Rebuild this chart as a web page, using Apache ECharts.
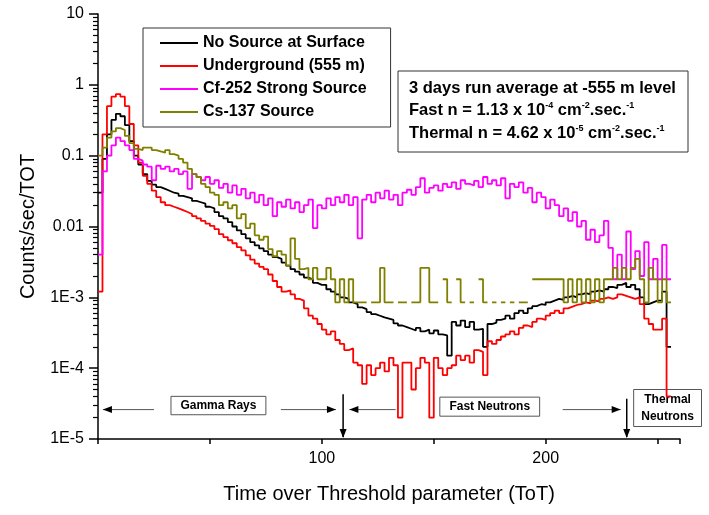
<!DOCTYPE html>
<html>
<head>
<meta charset="utf-8">
<script src="https://cdn.jsdelivr.net/npm/echarts@6/dist/echarts.min.js"></script>
<style>
  html, body { margin: 0; padding: 0; background: #fff; }
  #main { width: 709px; height: 515px; }
</style>
</head>
<body>
<div id="main"></div>
<script>
// ToT histogram, bins of width 2 starting at 0
var binStart = 0, binWidth = 2;
var seriesNames = ['No Source at Surface', 'Underground (555 m)', 'Cf-252 Strong Source', 'Cs-137 Source'];
var seriesColors = ['#000000', '#ff0000', '#ff00ff', '#808000'];

var noSource = [
  0.03, 0.09, 0.2, 0.32, 0.39, 0.36, 0.27, 0.16, 0.1, 0.075,
  0.055, 0.044, 0.039, 0.036, 0.034, 0.032, 0.03, 0.029, 0.027, 0.026,
  0.025, 0.023, 0.022, 0.021, 0.019, 0.018, 0.016, 0.014, 0.013, 0.0115,
  0.01, 0.0088, 0.0078, 0.0068, 0.006, 0.0054, 0.0049, 0.0045, 0.004, 0.0037,
  0.0035, 0.0031, 0.0028, 0.0025, 0.0023, 0.0021, 0.0019, 0.0018, 0.0016, 0.0015,
  0.0015, 0.0013, 0.0012, 0.0011, 0.001, 0.00095, 0.00085, 0.0008, 0.00072, 0.00068,
  0.00062, 0.00058, 0.00055, 0.00052, 0.0005, 0.00048, 0.00043, 0.0004, 0.00038, 0.00036,
  0.00034, 0.00037, 0.00033, 0.00035, 0.00031, 0.00034, 0.0003, 0.00029, 0.00015, 0.00045,
  0.0004, 0.00047, 0.00038, 0.00045, 0.00035, 0.00036, 0.0002, 0.00042, 0.00044, 0.00048,
  0.0005, 0.00055, 0.0005, 0.0006, 0.00065, 0.0006, 0.0007, 0.00075, 0.0008, 0.00078,
  0.00085, 0.0009, 0.00095, 0.00092, 0.001, 0.00105, 0.001, 0.0011, 0.00115, 0.0011,
  0.0012, 0.00125, 0.0012, 0.0013, 0.0014, 0.00135, 0.0015, 0.0016, 0.0014, 0.0015,
  0.0013, 0.001, 0.0008, 0.00085, 0.0009, 0.0009, 0.0012, 0.0002
];
var underground = [
  0.0012, 0.2, 0.5, 0.68, 0.74, 0.68, 0.5, 0.28, 0.14, 0.08,
  0.052, 0.04, 0.032, 0.026, 0.022, 0.02, 0.019, 0.018, 0.017, 0.016,
  0.015, 0.014, 0.013, 0.012, 0.011, 0.0102, 0.0092, 0.0078, 0.0071, 0.0064,
  0.0058, 0.0051, 0.0046, 0.0039, 0.0034, 0.003, 0.0027, 0.0025, 0.0021, 0.0017,
  0.0014, 0.0012, 0.00125, 0.0011, 0.00095, 0.0009, 0.0007, 0.00055, 0.0005, 0.00042,
  0.00035, 0.0003, 0.00033, 0.00025, 0.00022, 0.00018, 0.00019, 0.00012, 0.00011, 0.00006,
  0.00011, 0.00008, 0.0001, 0.00012, 0.00009, 0.00014, 0.00011, 0.00002, 0.00012, 0.00012,
  0.00005, 0.0001, 0.00014, 0.00012, 0.00002, 0.00014, 0.0001, 0.00008, 0.0001, 0.00011,
  0.00015, 0.00013, 0.00015, 0.00012, 0.00018, 0.00017, 0.00008, 0.00024, 0.00022, 0.00025,
  0.00028, 0.0003, 0.00033, 0.0003, 0.00037, 0.0004, 0.00038, 0.00045, 0.0005, 0.00048,
  0.00055, 0.0006, 0.00065, 0.0006, 0.0007, 0.00074, 0.00078, 0.0008, 0.00085, 0.00082,
  0.0009, 0.00088, 0.00095, 0.001, 0.00095, 0.001, 0.0011, 0.00105, 0.001, 0.00095,
  0.001, 0.0008, 0.0005, 0.00042, 0.00035, 0.00035, 0.0005, 0.00004
];
var cf252 = [
  0.004, 0.06, 0.1, 0.14, 0.18, 0.16, 0.14, 0.12, 0.09, 0.085,
  0.075, 0.07, 0.045, 0.072, 0.065, 0.07, 0.06, 0.065, 0.055, 0.06,
  0.034, 0.055, 0.05, 0.045, 0.05, 0.04, 0.045, 0.035, 0.04, 0.03,
  0.038, 0.028, 0.034, 0.025, 0.03, 0.022, 0.028, 0.02, 0.025, 0.014,
  0.022, 0.019, 0.024, 0.018, 0.022, 0.016, 0.02, 0.024, 0.0095, 0.02,
  0.018, 0.025, 0.02, 0.026, 0.022, 0.028, 0.02, 0.026, 0.0068, 0.024,
  0.028, 0.022, 0.03, 0.025, 0.032, 0.024, 0.028, 0.02, 0.03, 0.033,
  0.028, 0.036, 0.048, 0.03, 0.035, 0.038, 0.032, 0.04, 0.036, 0.042,
  0.034, 0.045, 0.04, 0.038, 0.044, 0.036, 0.05, 0.04, 0.045, 0.038,
  0.048, 0.025, 0.04, 0.036, 0.042, 0.03, 0.035, 0.022, 0.03, 0.026,
  0.018, 0.024, 0.02, 0.014, 0.018, 0.012, 0.016, 0.01, 0.012, 0.0065,
  0.009, 0.006, 0.0075, 0.012, 0.005, 0.0018, 0.004, 0.0018, 0.0085, 0.0025,
  0.0045, 0.002, 0.006, 0.0018, 0.0035, 0.0018, 0.0055, 0.0018
];
// null = empty bin (gap on the log scale)
var cs137 = [
  0.1, 0.13, 0.18, 0.22, 0.245, 0.23, 0.19, 0.15, 0.125, 0.12,
  0.13, 0.13, 0.12, 0.115, 0.11, 0.12, 0.105, 0.1, 0.09, 0.08,
  0.065, 0.055, 0.05, 0.04, 0.036, 0.03, 0.028, 0.02, 0.022, 0.018,
  0.02, 0.013, 0.015, 0.0095, 0.011, 0.0075, 0.0065, 0.0072, 0.0048, 0.0038,
  0.0045, 0.004, 0.0028, 0.0068, 0.0035, 0.0025, 0.0026, 0.0018, 0.0026, 0.0018,
  0.0018, 0.0026, 0.0018, 0.00085, 0.0018, 0.00085, 0.0018, 0.00085, 0.00085, 0.00085,
  null, 0.00085, 0.00085, 0.0026, 0.00085, 0.00085, null, 0.00085, 0.00085, null,
  0.00085, 0.00085, 0.0026, 0.0026, 0.00085, 0.00085, null, 0.0018, 0.00085, null,
  0.0018, 0.00085, null, 0.00085, null, 0.0018, 0.00085, null, 0.00085, null,
  0.00085, null, 0.00085, null, 0.00085, 0.00085, null, 0.0018, 0.0018, 0.0018,
  0.0018, 0.0018, 0.0018, 0.0018, 0.00085, 0.0018, 0.00085, 0.0018, 0.00085, 0.0018,
  0.00085, 0.0018, 0.00085, 0.0018, 0.0018, 0.0026, 0.0018, 0.0026, 0.0018, 0.0026,
  0.0035, 0.0018, 0.00085, 0.0026, 0.0018, 0.00085, 0.0018, 0.00085
];

var yTickLabels = ['1E-5', '1E-4', '1E-3', '0.01', '0.1', '1', '10'];
var xTickLabels = [100, 200];

var FONT = 'Arial, "Liberation Sans", sans-serif';

// minor tick positions of the log axis: 2..9 within every decade
var yMinorTicks = [];
[1e-5, 1e-4, 1e-3, 1e-2, 1e-1, 1].forEach(function (dec) {
  [2, 3, 4, 5, 6, 7, 8, 9].forEach(function (m) { yMinorTicks.push(+(m * dec).toPrecision(3)); });
});

// histogram bins -> flat-topped step outline
function toSteps(values) {
  var out = [];
  values.forEach(function (v, i) {
    var x0 = binStart + i * binWidth;
    if (v == null) {
      out.push([x0 + binWidth / 2, '-']);
    } else {
      out.push([x0, v], [x0 + binWidth, v]);
    }
  });
  return out;
}

var allValues = [noSource, underground, cf252, cs137];

var chart = echarts.init(document.getElementById('main'));

var option = {
  animation: false,
  backgroundColor: '#fff',
  textStyle: { fontFamily: FONT },
  grid: { left: 98, right: 29, top: 14, bottom: 76 },
  legend: {
    orient: 'vertical',
    left: 143,
    top: 28,
    padding: [7, 24, 7, 17],
    itemWidth: 38,
    itemHeight: 14,
    itemGap: 7,
    icon: 'path://M0,0L38,0L38,2L0,2Z',
    borderColor: '#333',
    borderWidth: 1,
    backgroundColor: '#fff',
    data: seriesNames,
    textStyle: { fontFamily: FONT, fontSize: 16, fontWeight: 'bold', color: '#000' }
  },
  xAxis: {
    type: 'value',
    min: 0,
    max: 260,
    interval: 50,
    name: 'Time over Threshold parameter (ToT)',
    nameLocation: 'middle',
    nameGap: 45,
    nameTextStyle: { fontFamily: FONT, fontSize: 20, color: '#000' },
    axisLine: { show: true, lineStyle: { color: '#000', width: 1.5 } },
    axisTick: { show: true, length: 5, lineStyle: { color: '#000', width: 1.5 } },
    axisLabel: {
      fontFamily: FONT, fontSize: 16, color: '#000', margin: 12,
      formatter: function (v) { return xTickLabels.indexOf(v) >= 0 ? String(v) : ''; }
    },
    splitLine: { show: false }
  },
  yAxis: [{
    type: 'log',
    logBase: 10,
    min: 1e-5,
    max: 10,
    name: 'Counts/sec/TOT',
    nameLocation: 'middle',
    nameGap: 60,
    nameTextStyle: { fontFamily: FONT, fontSize: 20, color: '#000' },
    axisLine: { show: true, lineStyle: { color: '#000', width: 1.5 } },
    axisTick: { show: true, length: 9, lineStyle: { color: '#000', width: 1.5 } },
    axisLabel: {
      fontFamily: FONT, fontSize: 16, color: '#000', margin: 14,
      formatter: function (v) {
        var e = Math.round(Math.log10(v));
        return yTickLabels[e + 5] || '';
      }
    },
    splitLine: { show: false }
  }, {
    // companion axis carrying only the short minor ticks
    type: 'log',
    logBase: 10,
    min: 1e-5,
    max: 10,
    position: 'left',
    offset: 0,
    axisLine: { show: false },
    axisLabel: { show: false },
    splitLine: { show: false },
    axisTick: { show: true, length: 5, customValues: yMinorTicks, lineStyle: { color: '#000', width: 1.2 } }
  }],
  series: seriesNames.map(function (name, k) {
    return {
      name: name,
      type: 'line',
      yAxisIndex: 0,
      symbol: 'none',
      connectNulls: false,
      clip: true,
      lineStyle: { color: seriesColors[k], width: 1.8 },
      itemStyle: { color: seriesColors[k] },
      data: toSteps(allValues[k])
    };
  })
};

chart.setOption(option);

// ---- annotations (positioned in data coordinates) ----
function px(x, y) { return chart.convertToPixel({ gridIndex: 0 }, [x, y]); }

function headPts(tip, dir) {
  var L = 9, W = 3.5, x = tip[0], y = tip[1];
  if (dir === 'left') return [[x, y], [x + L, y - W], [x + L, y + W]];
  if (dir === 'right') return [[x, y], [x - L, y - W], [x - L, y + W]];
  return [[x, y], [x - W, y - L], [x + W, y - L]]; // down
}

function hArrow(x1, x2, yv, headAt) {
  var a = px(x1, yv), b = px(x2, yv);
  var tip = headAt === 'left' ? a : b;
  return [
    { type: 'line', shape: { x1: a[0], y1: a[1], x2: b[0], y2: b[1] }, style: { stroke: '#555', lineWidth: 1 } },
    { type: 'polygon', shape: { points: headPts(tip, headAt) }, style: { fill: '#000' } }
  ];
}

function vArrow(xv, yTop) {
  var a = px(xv, yTop), b = px(xv, 1e-5);
  return [
    { type: 'line', shape: { x1: a[0], y1: a[1], x2: b[0], y2: b[1] - 2 }, style: { stroke: '#000', lineWidth: 1.5 } },
    { type: 'polygon', shape: { points: headPts([b[0], b[1] - 1], 'down') }, style: { fill: '#000' } }
  ];
}

function labelBox(xLeft, xRight, yTop, yBottom, text) {
  var a = px(xLeft, yTop), b = px(xRight, yBottom);
  return [
    { type: 'rect', shape: { x: a[0], y: a[1], width: b[0] - a[0], height: b[1] - a[1] },
      style: { fill: '#fff', stroke: '#555', lineWidth: 1 } },
    { type: 'text', x: (a[0] + b[0]) / 2, y: (a[1] + b[1]) / 2,
      style: { text: text, fill: '#000', font: 'bold 12px ' + FONT, align: 'center', verticalAlign: 'middle', lineHeight: 17 } }
  ];
}

var gfx = [];
var arrowY = 2.6e-5;
gfx = gfx.concat(hArrow(2.2, 25, arrowY, 'left'));
gfx = gfx.concat(labelBox(32.6, 75, 4.0e-5, 2.2e-5, 'Gamma Rays'));
gfx = gfx.concat(hArrow(81.7, 106.3, arrowY, 'right'));
gfx = gfx.concat(vArrow(109.5, 4.3e-5));
gfx = gfx.concat(hArrow(112.3, 133, arrowY, 'left'));
gfx = gfx.concat(labelBox(152.7, 197.3, 3.9e-5, 2.1e-5, 'Fast Neutrons'));
gfx = gfx.concat(hArrow(207.6, 233.5, arrowY, 'right'));
gfx = gfx.concat(vArrow(236.2, 3.7e-5));
gfx = gfx.concat(labelBox(239.3, 269.6, 5.0e-5, 1.5e-5, 'Thermal\nNeutrons'));

// info box
gfx.push({
  type: 'rect', shape: { x: 398, y: 71, width: 290, height: 81 },
  style: { fill: '#fff', stroke: '#333', lineWidth: 1 }
});
gfx.push({
  type: 'text', x: 409, y: 77,
  style: {
    text: '{a|3 days run average at -555 m level}\n' +
          '{a|Fast n = 1.13 x 10}{s|-4}{a| cm}{s|-2}{a|.sec.}{s|-1}\n' +
          '{a|Thermal n = 4.62 x 10}{s|-5}{a| cm}{s|-2}{a|.sec.}{s|-1}',
    rich: {
      a: { font: 'bold 16.5px ' + FONT, fill: '#000', lineHeight: 22.5 },
      s: { font: 'bold 9px ' + FONT, fill: '#000', lineHeight: 22.5, verticalAlign: 'top', padding: [2, 0, 0, 0] }
    }
  }
});

chart.setOption({ graphic: { elements: gfx } });
</script>
</body>
</html>
